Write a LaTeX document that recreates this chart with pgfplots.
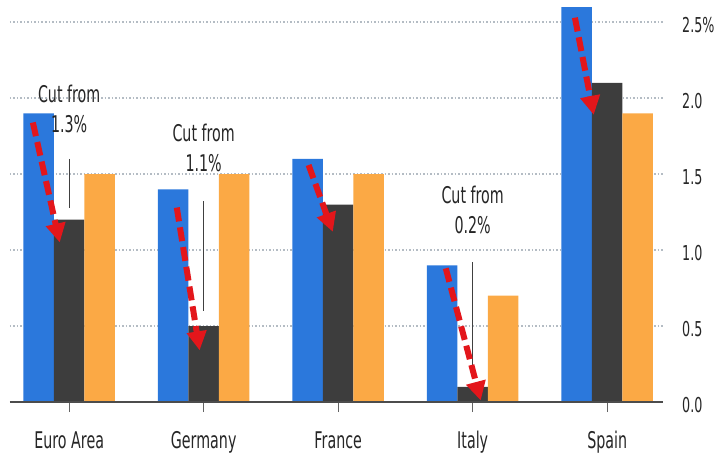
\documentclass[border=0pt]{standalone}
\usepackage{fontspec}
\setmainfont{DejaVu Sans}[FakeStretch=0.62]
\usepackage{pgfplots}
\pgfplotsset{compat=1.18}
\usetikzlibrary{arrows.meta}

\definecolor{bblue}{HTML}{2B78DC}
\definecolor{bdark}{HTML}{3D3D3D}
\definecolor{borange}{HTML}{FBA945}
\definecolor{bred}{HTML}{E3161B}
\definecolor{gridc}{HTML}{B4BCC4}

\begin{document}
\begin{tikzpicture}
\useasboundingbox (-10pt,-53pt) rectangle (704pt,402pt);
\begin{axis}[
  at={(0,0)}, anchor=south west,
  scale only axis, width=653pt, height=398pt,
  xmin=-0.44, xmax=4.415, ymin=0, ymax=2.62,
  ybar=0pt, bar width=0.227,
  axis line style={draw=none},
  xtick={0,1,2,3,4},
  xticklabels={Euro Area,Germany,France,Italy,Spain},
  xtick pos=left, tick align=outside,
  major tick length=10pt,
  xtick style={draw=bdark!80, line width=1.2pt},
  xticklabel style={font=\fontsize{23}{28}\selectfont, anchor=base, yshift=-36pt, text=black!85},
  ytick={0,0.5,1,1.5,2,2.5},
  yticklabels={0.0,0.5,1.0,1.5,2.0,2.5\%},
  yticklabel pos=right,
  ytick style={draw=none},
  yticklabel style={font=\fontsize{20.5}{24}\selectfont, anchor=west, inner sep=0pt, xshift=9pt, yshift=-3pt, text=black!85},
  ymajorgrids,
  grid style={gridc, line width=1.5pt, dash pattern=on 1.5pt off 2pt},
]
\addplot[fill=bblue, draw=none] coordinates {(0,1.9) (1,1.4) (2,1.6) (3,0.9) (4,2.6)};
\addplot[fill=bdark, draw=none] coordinates {(0,1.2) (1,0.5) (2,1.3) (3,0.1) (4,2.1)};
\addplot[fill=borange, draw=none] coordinates {(0,1.5) (1,1.5) (2,1.5) (3,0.7) (4,1.9)};

\draw[black!70, line width=1.2pt] (axis cs:-0.44,0) -- (axis cs:4.415,0);

% thin markers under the notes
\draw[black!75, line width=0.9pt] (axis cs:0,1.6) -- (axis cs:0,1.28);
\draw[black!75, line width=0.9pt] (axis cs:1,1.32) -- (axis cs:1,0.6);
\draw[black!75, line width=0.9pt] (axis cs:3,0.92) -- (axis cs:3,0.21);

\node[anchor=north, align=center, inner sep=0pt, font=\fontsize{23}{30}\selectfont, text=black!85] at (axis cs:0,2.09) {Cut from\\1.3\%};
\node[anchor=north, align=center, inner sep=0pt, font=\fontsize{23}{30}\selectfont, text=black!85] at (axis cs:1,1.83) {Cut from\\1.1\%};
\node[anchor=north, align=center, inner sep=0pt, font=\fontsize{23}{30}\selectfont, text=black!85] at (axis cs:3,1.42) {Cut from\\0.2\%};

% red arrows
\tikzset{cut/.style={bred, line width=6pt, dash pattern=on 14pt off 6pt, -{Triangle[length=19pt,width=19pt]}}}
\draw[cut] (axis cs:-0.27,1.84) -- (axis cs:-0.07,1.05);
\draw[cut] (axis cs:0.80,1.28) -- (axis cs:0.97,0.34);
\draw[cut] (axis cs:1.78,1.56) -- (axis cs:1.96,1.12);
\draw[cut] (axis cs:2.80,0.88) -- (axis cs:3.06,0.01);
\draw[cut] (axis cs:3.76,2.53) -- (axis cs:3.90,1.89);
\end{axis}
\end{tikzpicture}
\end{document}
